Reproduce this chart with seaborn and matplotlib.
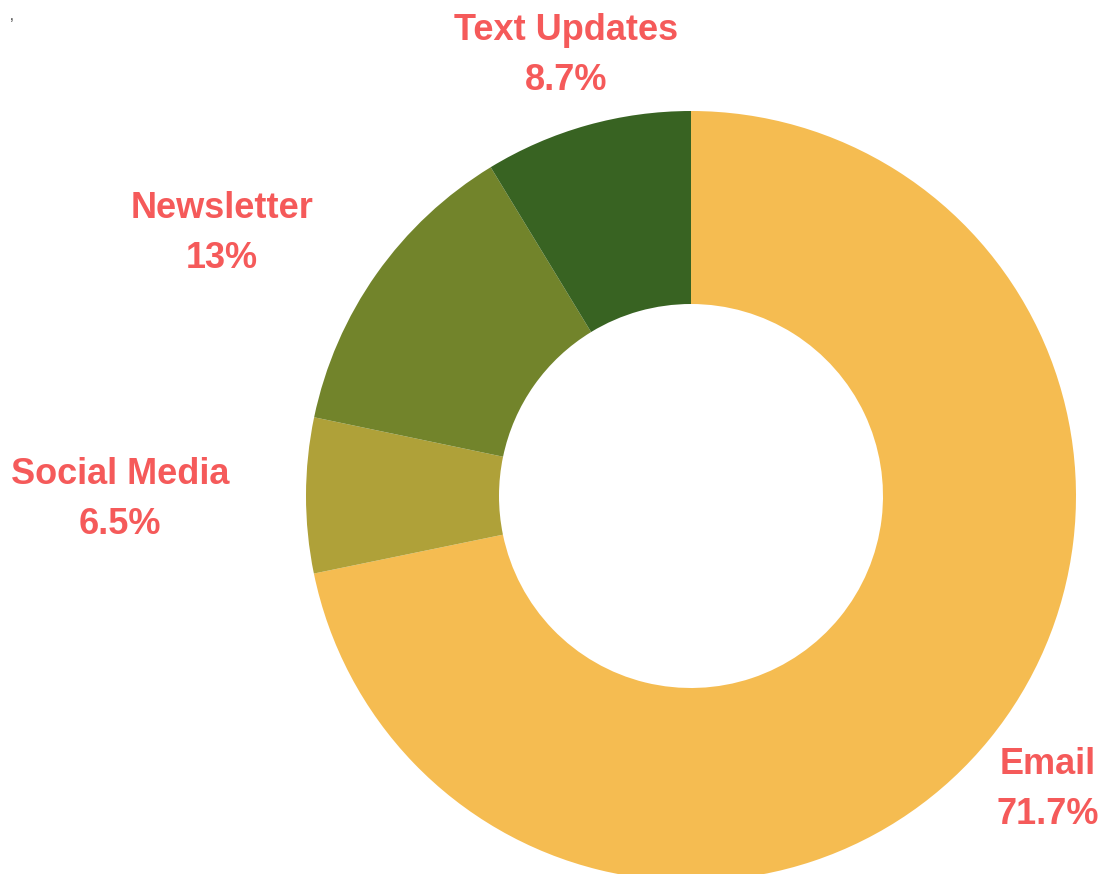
"""
Donut chart: share of contact channels.
"""

import matplotlib
matplotlib.use("Agg")
import matplotlib.pyplot as plt
import seaborn as sns

sns.set_theme(style="white")
plt.rcParams['font.family'] = ['Liberation Sans', 'DejaVu Sans']

# data
channels = ['Email', 'Social Media', 'Newsletter', 'Text Updates']
shares = [71.7, 6.5, 13.0, 8.7]
colors = ['#F5BC51', '#AFA139', '#72842B', '#386322']

# label anchor points in pixel space (x, y from top)
label_pos = {
    'Email': (1048, 765),
    'Social Media': (120, 475),
    'Newsletter': (222, 209),
    'Text Updates': (566, 31),
}
LABEL_COLOR = '#F55A5A'

W, H = 1105, 874


def fmt_pct(v):
    s = f"{v:.1f}"
    if s.endswith('.0'):
        s = s[:-2]
    return s + '%'


def main():
    fig = plt.figure(figsize=(W / 100, H / 100), dpi=100)
    ax = fig.add_axes([0, 0, 1, 1])
    ax.set_xlim(0, W)
    ax.set_ylim(0, H)
    ax.set_aspect('equal')
    ax.axis('off')

    ax.pie(shares, colors=colors, startangle=90, counterclock=False,
           center=(691, H - 496), radius=385,
           wedgeprops=dict(width=193, linewidth=0))

    for name, val in zip(channels, shares):
        x, y = label_pos[name]
        ax.text(x, H - y, name, ha='center', va='center', fontsize=26,
                fontweight='bold', color=LABEL_COLOR)
        ax.text(x, H - y - 50, fmt_pct(val), ha='center', va='center',
                fontsize=26, fontweight='bold', color=LABEL_COLOR)

    # stray mark in the top-left corner of the original
    ax.text(12, H - 16, ',', ha='center', va='center', fontsize=10, color='#333333')

    ax.set_xlim(0, W)
    ax.set_ylim(0, H)
    fig.savefig('out.png', dpi=100)
    plt.close(fig)


if __name__ == "__main__":
    main()
